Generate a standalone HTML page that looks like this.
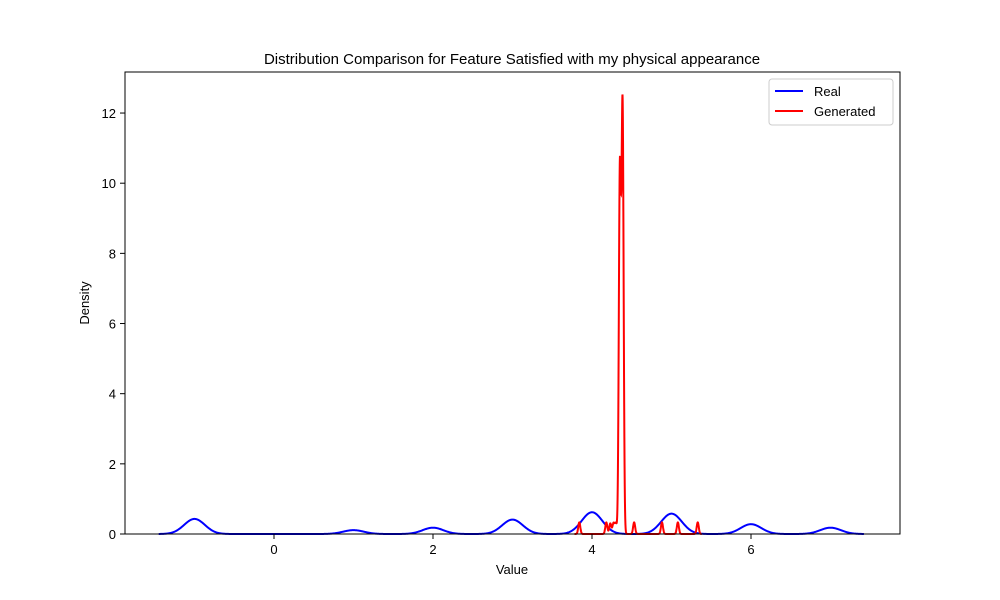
<!DOCTYPE html>
<html><head><meta charset="utf-8"><style>
body{margin:0;background:#fff;}
svg{display:block;font-family:"Liberation Sans","DejaVu Sans",sans-serif;}
</style></head><body>
<svg id="chart" width="1000" height="600" viewBox="0 0 1000 600">
<rect width="1000" height="600" fill="#fff"/>
<text x="512" y="64" font-size="15" text-anchor="middle">Distribution Comparison for Feature Satisfied with my physical appearance</text>
<g id="plot"></g>
<rect x="125" y="72" width="775" height="462" fill="none" stroke="#000" stroke-width="1"/>
<g id="axes"></g>
<text x="512" y="574" font-size="13" text-anchor="middle">Value</text>
<text transform="translate(89,303) rotate(-90)" font-size="13" text-anchor="middle">Density</text>
<g>
<rect x="769" y="79" width="124" height="46" rx="3" fill="#fff" stroke="#ccc"/>
<line x1="775" y1="91" x2="803" y2="91" stroke="blue" stroke-width="2"/>
<text x="814" y="96" font-size="13">Real</text>
<line x1="775" y1="111" x2="803" y2="111" stroke="red" stroke-width="2"/>
<text x="814" y="116" font-size="13">Generated</text>
</g>
</svg>
<script>
const xTicks=[0,2,4,6];
const yTicks=[0,2,4,6,8,10,12];
const realCenters=[-1,1,2,3,4,5,6,7];
const realHeights=[0.43,0.11,0.18,0.41,0.62,0.58,0.28,0.18];
const realRange=[-1.45,7.42];
const genCenters=[3.84,4.18,4.23,4.27,4.30,4.35,4.367,4.385,4.53,4.88,5.08,5.33];
const genHeights=[0.33,0.33,0.3,0.3,0.3,9.9,1.0,11.8,0.33,0.33,0.33,0.33];
const genRange=[3.78,5.38];
const X=v=>274+v*79.5, Y=v=>534-v*35.08;
const NS='http://www.w3.org/2000/svg';
const plot=document.getElementById('plot'), axes=document.getElementById('axes');
function dens(x,c,h,s){let t=0;for(let i=0;i<c.length;i++){const d=(x-c[i])/s;t+=h[i]*Math.exp(-0.5*d*d);}return t;}
function curve(c,h,s,r,col,name){let d='';const n=2000;for(let i=0;i<=n;i++){const x=r[0]+(r[1]-r[0])*i/n;d+=(i?'L':'M')+X(x).toFixed(2)+','+Y(dens(x,c,h,s)).toFixed(2);}
const p=document.createElementNS(NS,'path');p.setAttribute('d',d);p.setAttribute('fill','none');p.setAttribute('stroke',col);p.setAttribute('stroke-width','2');


plot.appendChild(p);}
curve(realCenters,realHeights,0.13,realRange,'blue','real-density-line');
curve(genCenters,genHeights,0.013,genRange,'red','generated-density-line');
xTicks.forEach(v=>{const l=document.createElementNS(NS,'line');l.setAttribute('x1',X(v));l.setAttribute('x2',X(v));l.setAttribute('y1',534);l.setAttribute('y2',539);l.setAttribute('stroke','#000');


axes.appendChild(l);const t=document.createElementNS(NS,'text');t.setAttribute('x',X(v));t.setAttribute('y',554);t.setAttribute('font-size','13');t.setAttribute('text-anchor','middle');t.textContent=v;


axes.appendChild(t);});
yTicks.forEach(v=>{const l=document.createElementNS(NS,'line');l.setAttribute('x1',120);l.setAttribute('x2',125);l.setAttribute('y1',Y(v));l.setAttribute('y2',Y(v));l.setAttribute('stroke','#000');


axes.appendChild(l);const t=document.createElementNS(NS,'text');t.setAttribute('x',116);t.setAttribute('y',Y(v)+5);t.setAttribute('font-size','13');t.setAttribute('text-anchor','end');t.textContent=v;


axes.appendChild(t);});
</script>
</body></html>
